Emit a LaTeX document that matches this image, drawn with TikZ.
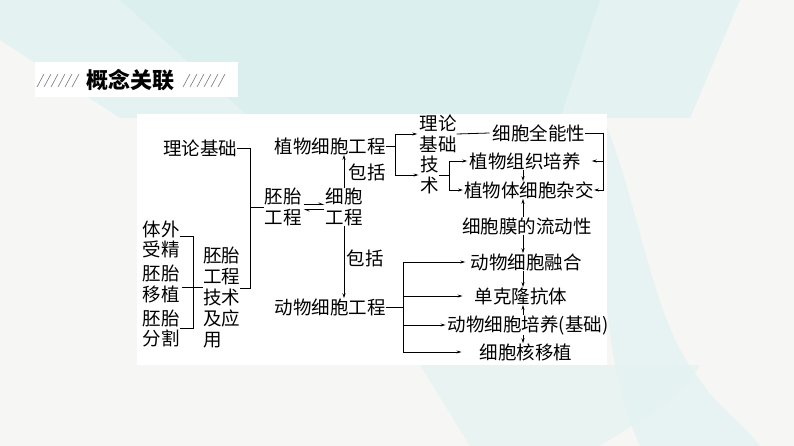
\documentclass[tikz,border=0pt]{standalone}
\usepackage{fontspec}
\newfontfamily\cjk{Noto Sans CJK SC}
\usetikzlibrary{arrows.meta}
\definecolor{bgg}{RGB}{246,247,245}
\definecolor{tealA}{RGB}{218,238,238}
\definecolor{tealB}{RGB}{228,242,242}
\definecolor{hatch}{RGB}{120,120,120}
\begin{document}
\begin{tikzpicture}[x=1pt,y=-1pt,
  txt/.style={inner sep=0pt,font=\cjk\fontsize{18.5}{20.5}\selectfont,align=center},
  ln/.style={line width=0.8pt},
  arr/.style={line width=0.8pt,-{Stealth[length=5pt,width=3pt]}},
  hrp/.style={line width=0.7pt,-{Straight Barb[left,length=4pt,width=3.5pt]}},
  hb/.style={line width=0.6pt,hatch}]
\useasboundingbox (0,0) rectangle (794,446);
% background
\fill[bgg] (0,0) rectangle (794,446);
\fill[tealB] (20,0) -- (740,0) -- (690,118) -- (120,118) -- (0,40) -- (0,0) -- cycle;
\fill[tealA,opacity=0.7] (120,0) -- (600,0) -- (560,118) -- (250,118) -- cycle;
\fill[tealB,opacity=0.8] (600,110) .. controls (640,200) and (650,320) .. (700,380) .. controls (720,410) and (740,420) .. (760,446) -- (640,446) .. controls (610,380) and (600,300) .. (600,110) -- cycle;
\fill[tealB,opacity=0.7] (420,365) -- (700,365) .. controls (680,400) and (640,420) .. (600,446) -- (470,446) -- cycle;
% panels
\fill[white] (137,114) rectangle (607,365);
\fill[white] (35,62) rectangle (238,97);
% title hatches
\foreach \x in {37,44,51,58,65,72} {\draw[hb] (\x,87) -- (\x+7,74);}
\foreach \x in {183,190,197,204,211,218} {\draw[hb] (\x,87) -- (\x+7,74);}
\node[inner sep=0pt,font=\cjk\bfseries\fontsize{22}{24}\selectfont] (title) at (130,80) {概念关联};
% nodes
\node[txt] (t1) at (200,148) {理论基础};
\node[txt] (emb) at (283,207) {胚胎\\工程};
\node[txt] (cell) at (344,207) {细胞\\工程};
\node[txt] (plant) at (330,146) {植物细胞工程};
\node[txt] (anim) at (330,307) {动物细胞工程};
\node[txt] (bao1) at (367,172) {包括};
\node[txt] (bao2) at (365,258) {包括};
\node[txt] (th2) at (438,134) {理论\\基础};
\node[txt] (tech) at (430,175) {技\\术};
\node[txt] (tot) at (539,133) {细胞全能性};
\node[txt] (tis) at (525,161) {植物组织培养};
\node[txt] (hyb) at (529,190) {植物体细胞杂交};
\node[txt] (memb) at (527,226) {细胞膜的流动性};
\node[txt] (fus) at (526,262) {动物细胞融合};
\node[txt] (mab) at (521,296) {单克隆抗体};
\node[txt] (cult) at (528,325) {动物细胞培养(基础)};
\node[txt] (nt) at (526,352) {细胞核移植};
\node[txt] (ivf) at (161,239.5) {体外\\受精};
\node[txt] (et) at (161,284) {胚胎\\移植};
\node[txt] (es) at (161,328.5) {胚胎\\分割};
\node[txt,align=left,anchor=west,font=\cjk\fontsize{18.5}{20.8}\selectfont] (app) at (203,297.5) {胚胎\\工程\\技术\\及应\\用};
% left connectors
\coordinate (j1) at (250,288);
\draw[ln] (t1.east) -| (j1) -- (j1 -| app.east);
\draw[ln] (j1 |- emb.west) -- (emb.west);
\coordinate (lb1) at (193,236);
\coordinate (lb2) at (193,328);
\draw[ln] (lb1 -| ivf.east) -- (lb1) -- (lb2) -- (lb2 -| es.east);
\draw[ln] (182,287) -- (app.west |- 0,287);
% harpoons
\draw[hrp] ([yshift=2.5pt,xshift=2pt]emb.east) -- ([yshift=2.5pt,xshift=-1pt]cell.west);
\draw[hrp] ([yshift=-2.5pt,xshift=-1pt]cell.west) -- ([yshift=-2.5pt,xshift=2pt]emb.east);
% cell engineering
\draw[arr] (cell.north) -- (cell.north |- plant.south);
\draw[arr] (cell.south) -- (cell.south |- anim.north);
% plant branch
\coordinate (pb) at (395,146);
\draw[ln] (plant.east) -- (pb);
\draw[arr] (pb) |- ([xshift=-2pt]th2.west);
\draw[arr] (pb) |- ([xshift=-2pt]tech.west);
\draw[ln] (th2.east) -- ([xshift=-3pt]tot.west);
\coordinate (rb) at (603,133);
\draw[ln] (tot.east) -- (rb);
\draw[arr] (rb) |- ([xshift=11pt]tis.east);
\draw[arr] (rb) |- (hyb.east);
\coordinate (tb) at (449,175);
\draw[ln] (tech.east) -- (tb);
\draw[arr] (tb) |- ([xshift=-2pt]tis.west);
\draw[arr] (tb) |- ([xshift=-1pt]hyb.west);
% vertical small arrows
\coordinate (ax) at (523,0);
\draw[arr] (ax |- tis.south) -- (ax |- hyb.north);
\draw[arr] (ax |- memb.north) -- (ax |- hyb.south);
\draw[arr] (ax |- memb.south) -- (ax |- fus.north);
\draw[arr] (ax |- fus.south) -- (ax |- mab.north);
\draw[arr] (ax |- cult.north) -- (ax |- mab.south);
\draw[arr] (ax |- cult.south) -- (ax |- nt.north);
% animal branch
\coordinate (ab) at (403,307);
\draw[ln] (anim.east) -- (ab);
\draw[ln] (ab |- fus.west) -- (ab |- nt.west);
\draw[arr] (ab |- fus.west) -- ([xshift=-5pt]fus.west);
\draw[arr] (ab |- mab.west) -- ([xshift=-12pt]mab.west);
\draw[arr] (ab |- cult.west) -- ([xshift=-2pt]cult.west);
\draw[arr] (ab |- nt.west) -- ([xshift=-18pt]nt.west);
\end{tikzpicture}
\end{document}
